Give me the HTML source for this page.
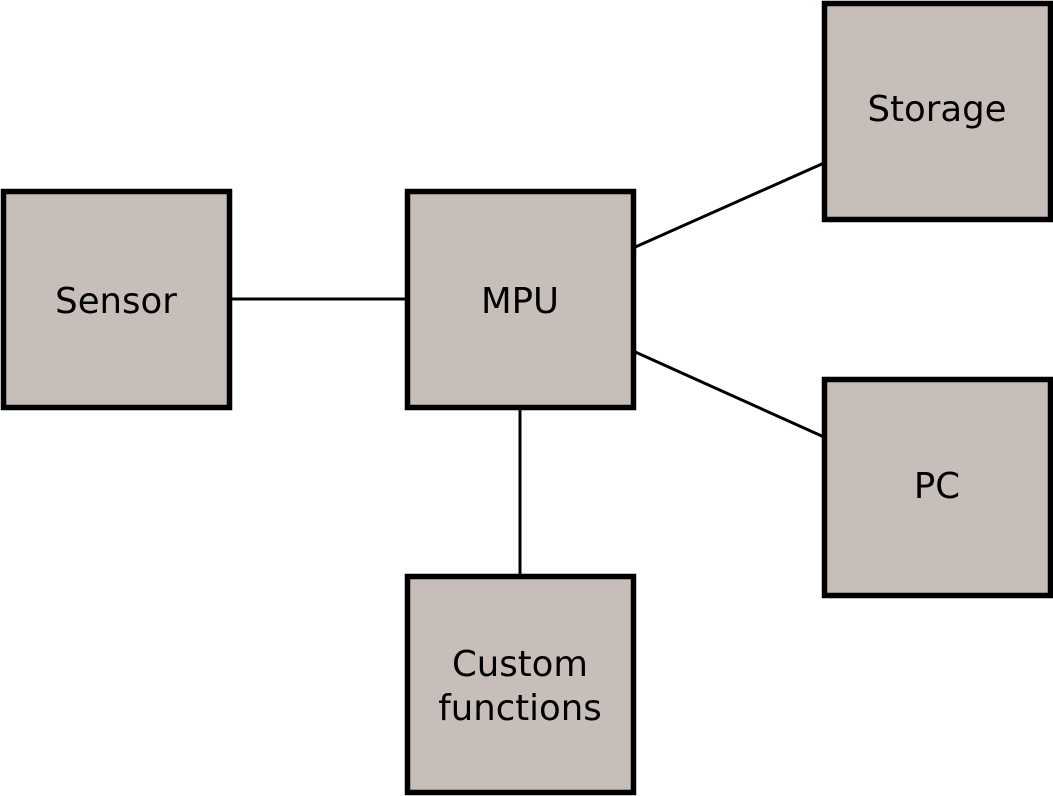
<!DOCTYPE html>
<html><head><style>
html,body{margin:0;padding:0;background:#fff;}
</style></head><body>
<svg width="1053" height="796" viewBox="0 0 1053 796" xmlns="http://www.w3.org/2000/svg" style="display:block">
<g stroke="#000" stroke-width="3">
<line x1="229" y1="299" x2="407" y2="299"/>
<line x1="520" y1="407" x2="520" y2="576"/>
<line x1="633" y1="248" x2="824" y2="163"/>
<line x1="633" y1="351" x2="824" y2="437"/>
</g>
<g fill="#c8beb9" stroke="#000" stroke-width="5.5">
<rect x="3.5" y="191.5" width="226" height="216"/>
<rect x="407.5" y="191.5" width="226" height="216"/>
<rect x="824.5" y="3.5" width="226" height="216"/>
<rect x="824.5" y="379.5" width="226" height="216"/>
<rect x="407.5" y="576.5" width="226" height="216"/>
</g>
<g font-family="DejaVu Sans, Liberation Sans, sans-serif" font-size="35.5" text-anchor="middle" fill="#000">
<text x="116" y="313">Sensor</text>
<text x="520" y="313">MPU</text>
<text x="937" y="121">Storage</text>
<text x="937" y="498">PC</text>
<text x="520" y="676">Custom</text>
<text x="520" y="720">functions</text>
</g>
</svg>
</body></html>
